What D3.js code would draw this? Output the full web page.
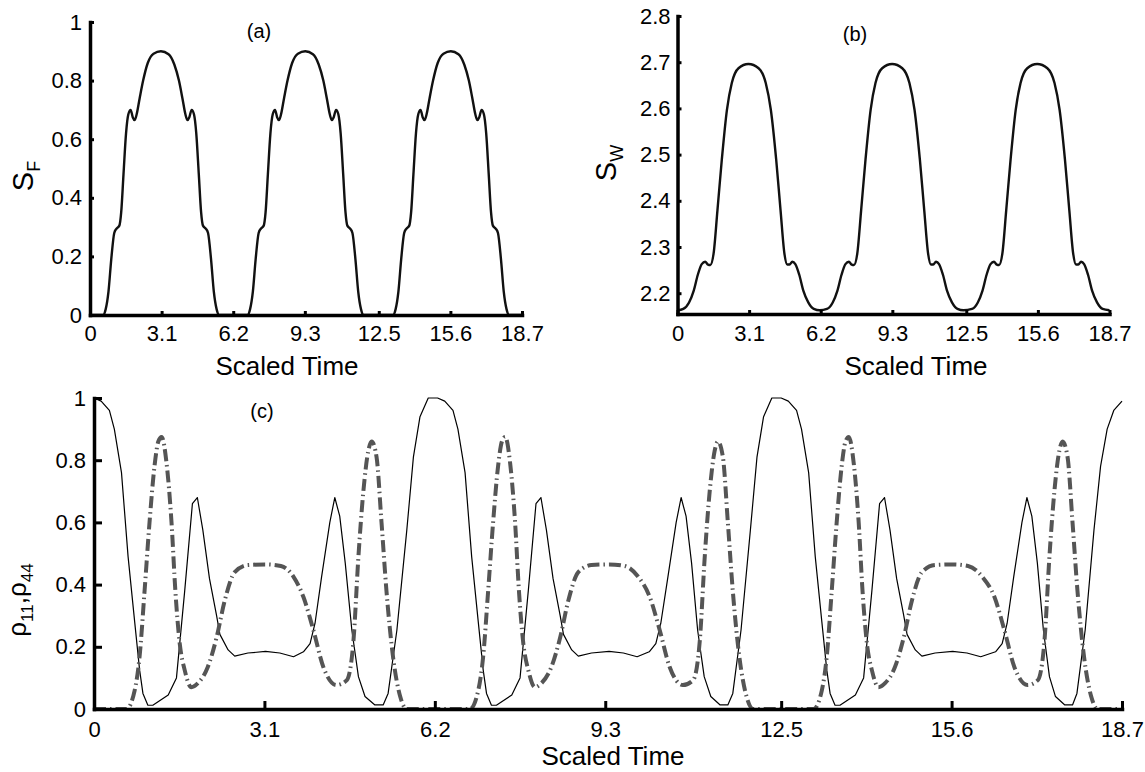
<!DOCTYPE html>
<html>
<head>
<meta charset="utf-8">
<script src="https://cdnjs.cloudflare.com/ajax/libs/d3/7.8.5/d3.min.js"></script>
<style>
    body { margin: 0; background: #fff; }
    svg { display: block; font-family: "Liberation Sans", Arial, Helvetica, sans-serif; }
</style>
</head>
<body>
<svg id="chart" width="1145" height="772"></svg>
<script>
// Tick values shared by the three panels
const timeTicks = [0, 3.1, 6.2, 9.3, 12.5, 15.6, 18.7];
const sfTicks = [0, 0.2, 0.4, 0.6, 0.8, 1];
const swTicks = [2.2, 2.3, 2.4, 2.5, 2.6, 2.7, 2.8];
const rhoTicks = [0, 0.2, 0.4, 0.6, 0.8, 1];

// (a) field entropy S_F, [time, value]
const entropyF = [
    [0, 0], [0.58, 0], [0.68, 0.02], [0.8, 0.08], [0.92, 0.19], [1.05, 0.28], [1.15, 0.295], [1.27, 0.305],
    [1.35, 0.35], [1.45, 0.48], [1.56, 0.62], [1.66, 0.685], [1.76, 0.70], [1.85, 0.675], [1.93, 0.665],
    [2.02, 0.685], [2.15, 0.74], [2.3, 0.80], [2.5, 0.86], [2.75, 0.892], [3.07, 0.90], [3.4, 0.89],
    [3.65, 0.855], [3.85, 0.80], [4.0, 0.74], [4.13, 0.685], [4.22, 0.665], [4.30, 0.675], [4.40, 0.70],
    [4.50, 0.685], [4.60, 0.62], [4.71, 0.48], [4.81, 0.35], [4.89, 0.305], [5.01, 0.295], [5.11, 0.28],
    [5.24, 0.19], [5.36, 0.08], [5.48, 0.02], [5.58, 0],
    [6.83, 0], [6.93, 0.02], [7.05, 0.08], [7.17, 0.19], [7.30, 0.28], [7.40, 0.295], [7.52, 0.305],
    [7.60, 0.35], [7.70, 0.48], [7.81, 0.62], [7.91, 0.685], [8.01, 0.70], [8.10, 0.675], [8.18, 0.665],
    [8.27, 0.685], [8.40, 0.74], [8.55, 0.80], [8.75, 0.86], [9.00, 0.892], [9.32, 0.90], [9.65, 0.89],
    [9.90, 0.855], [10.10, 0.80], [10.25, 0.74], [10.38, 0.685], [10.47, 0.665], [10.55, 0.675], [10.65, 0.70],
    [10.75, 0.685], [10.85, 0.62], [10.96, 0.48], [11.06, 0.35], [11.14, 0.305], [11.26, 0.295], [11.36, 0.28],
    [11.49, 0.19], [11.61, 0.08], [11.73, 0.02], [11.83, 0],
    [13.13, 0], [13.23, 0.02], [13.35, 0.08], [13.47, 0.19], [13.60, 0.28], [13.70, 0.295], [13.82, 0.305],
    [13.90, 0.35], [14.00, 0.48], [14.11, 0.62], [14.21, 0.685], [14.31, 0.70], [14.40, 0.675], [14.48, 0.665],
    [14.57, 0.685], [14.70, 0.74], [14.85, 0.80], [15.05, 0.86], [15.30, 0.892], [15.62, 0.90], [15.95, 0.89],
    [16.20, 0.855], [16.40, 0.80], [16.55, 0.74], [16.68, 0.685], [16.77, 0.665], [16.85, 0.675], [16.95, 0.70],
    [17.05, 0.685], [17.15, 0.62], [17.26, 0.48], [17.36, 0.35], [17.44, 0.305], [17.56, 0.295], [17.66, 0.28],
    [17.79, 0.19], [17.91, 0.08], [18.03, 0.02], [18.13, 0], [18.7, 0],
];

// (b) entropy S_W, [time, value]
const entropyW = [
    [0, 2.163], [0.25, 2.166], [0.5, 2.18], [0.7, 2.205], [0.88, 2.24], [1.05, 2.263], [1.2, 2.268],
    [1.32, 2.262], [1.42, 2.261], [1.56, 2.285], [1.73, 2.38], [1.92, 2.49], [2.14, 2.597], [2.35, 2.655],
    [2.64, 2.687], [3.07, 2.696], [3.51, 2.687], [3.82, 2.655], [4.04, 2.597], [4.27, 2.49], [4.46, 2.38],
    [4.63, 2.285], [4.75, 2.262], [4.85, 2.262], [4.97, 2.268], [5.1, 2.263], [5.27, 2.24], [5.45, 2.205],
    [5.66, 2.18], [5.9, 2.166], [6.16, 2.163],
    [6.47, 2.166], [6.72, 2.18], [6.92, 2.205], [7.10, 2.24], [7.27, 2.263], [7.42, 2.268], [7.54, 2.262],
    [7.64, 2.261], [7.78, 2.285], [7.95, 2.38], [8.14, 2.49], [8.36, 2.597], [8.57, 2.655], [8.86, 2.687],
    [9.29, 2.696], [9.73, 2.687], [10.04, 2.655], [10.26, 2.597], [10.49, 2.49], [10.68, 2.38], [10.85, 2.285],
    [10.97, 2.262], [11.07, 2.262], [11.19, 2.268], [11.32, 2.263], [11.49, 2.24], [11.67, 2.205], [11.88, 2.18],
    [12.12, 2.166], [12.38, 2.163],
    [12.75, 2.166], [13.00, 2.18], [13.20, 2.205], [13.38, 2.24], [13.55, 2.263], [13.70, 2.268], [13.82, 2.262],
    [13.92, 2.261], [14.06, 2.285], [14.23, 2.38], [14.42, 2.49], [14.64, 2.597], [14.85, 2.655], [15.14, 2.687],
    [15.57, 2.696], [16.01, 2.687], [16.32, 2.655], [16.54, 2.597], [16.77, 2.49], [16.96, 2.38], [17.13, 2.285],
    [17.25, 2.262], [17.35, 2.262], [17.47, 2.268], [17.60, 2.263], [17.77, 2.24], [17.95, 2.205], [18.16, 2.18],
    [18.40, 2.166], [18.7, 2.163],
];

// (c) populations rho_11 (solid) and rho_44 (dash-dot), [time, value]
const rho11 = [
    [0, 1.0], [0.13, 0.99], [0.28, 0.96], [0.37, 0.90], [0.5, 0.76], [0.62, 0.49], [0.74, 0.28], [0.83, 0.125],
    [0.89, 0.05], [0.98, 0.012], [1.07, 0.012], [1.35, 0.045], [1.5, 0.10], [1.65, 0.38], [1.79, 0.66],
    [1.88, 0.68], [1.98, 0.575], [2.1, 0.42], [2.23, 0.30], [2.29, 0.24], [2.44, 0.19], [2.56, 0.17],
    [2.8, 0.18], [3.12, 0.185], [3.38, 0.18], [3.63, 0.168], [3.81, 0.184], [3.93, 0.21], [4.02, 0.275],
    [4.14, 0.425], [4.29, 0.6], [4.38, 0.68], [4.47, 0.62], [4.57, 0.47], [4.69, 0.254], [4.81, 0.104],
    [4.93, 0.04], [5.11, 0.013], [5.26, 0.013], [5.35, 0.05], [5.51, 0.254], [5.69, 0.575], [5.81, 0.81],
    [5.93, 0.94], [6.08, 1.0], [6.25, 1.0],
    [6.38, 0.99], [6.53, 0.96], [6.62, 0.90], [6.75, 0.76], [6.87, 0.49], [6.99, 0.28], [7.08, 0.125],
    [7.14, 0.05], [7.23, 0.012], [7.32, 0.012], [7.60, 0.045], [7.75, 0.10], [7.90, 0.38], [8.04, 0.66],
    [8.13, 0.68], [8.23, 0.575], [8.35, 0.42], [8.48, 0.30], [8.54, 0.24], [8.69, 0.19], [8.81, 0.17],
    [9.05, 0.18], [9.37, 0.185], [9.63, 0.18], [9.88, 0.168], [10.10, 0.184], [10.22, 0.21], [10.31, 0.275],
    [10.44, 0.425], [10.59, 0.6], [10.68, 0.68], [10.77, 0.62], [10.87, 0.47], [10.98, 0.254], [11.10, 0.104],
    [11.22, 0.04], [11.39, 0.013], [11.53, 0.013], [11.62, 0.05], [11.77, 0.254], [11.94, 0.575], [12.06, 0.81],
    [12.18, 0.94], [12.33, 1.0], [12.5, 1.0],
    [12.63, 0.99], [12.78, 0.96], [12.87, 0.90], [13.00, 0.76], [13.12, 0.49], [13.24, 0.28], [13.33, 0.125],
    [13.39, 0.05], [13.48, 0.012], [13.57, 0.012], [13.85, 0.045], [14.00, 0.10], [14.15, 0.38], [14.29, 0.66],
    [14.38, 0.68], [14.48, 0.575], [14.60, 0.42], [14.73, 0.30], [14.79, 0.24], [14.94, 0.19], [15.06, 0.17],
    [15.30, 0.18], [15.62, 0.185], [15.88, 0.18], [16.13, 0.168], [16.40, 0.184], [16.52, 0.21], [16.61, 0.275],
    [16.73, 0.425], [16.88, 0.6], [16.97, 0.68], [17.06, 0.62], [17.16, 0.47], [17.27, 0.254], [17.38, 0.104],
    [17.49, 0.04], [17.66, 0.013], [17.80, 0.013], [17.88, 0.05], [18.03, 0.254], [18.19, 0.575], [18.31, 0.78],
    [18.43, 0.90], [18.55, 0.96], [18.7, 0.99],
];

const rho44 = [
    [0, 0], [0.59, 0], [0.74, 0.06], [0.83, 0.17], [0.92, 0.38], [1.01, 0.6], [1.1, 0.78], [1.17, 0.86],
    [1.23, 0.875], [1.32, 0.79], [1.41, 0.6], [1.48, 0.38], [1.56, 0.21], [1.65, 0.125], [1.77, 0.07],
    [1.89, 0.083], [2.07, 0.135], [2.23, 0.23], [2.38, 0.35], [2.56, 0.44], [2.8, 0.463], [3.12, 0.465],
    [3.4, 0.46], [3.63, 0.425], [3.81, 0.36], [3.99, 0.254], [4.17, 0.136], [4.41, 0.077], [4.6, 0.093],
    [4.72, 0.22], [4.81, 0.49], [4.9, 0.70], [4.99, 0.83], [5.05, 0.86], [5.14, 0.81], [5.23, 0.6],
    [5.32, 0.38], [5.44, 0.167], [5.57, 0.04], [5.69, 0],
    [6.84, 0], [6.99, 0.06], [7.08, 0.17], [7.17, 0.38], [7.26, 0.6], [7.35, 0.78], [7.42, 0.86],
    [7.48, 0.875], [7.57, 0.79], [7.66, 0.6], [7.73, 0.38], [7.81, 0.21], [7.90, 0.125], [8.02, 0.07],
    [8.14, 0.083], [8.32, 0.135], [8.48, 0.23], [8.63, 0.35], [8.81, 0.44], [9.05, 0.463], [9.37, 0.465],
    [9.65, 0.46], [9.90, 0.425], [10.11, 0.36], [10.29, 0.254], [10.47, 0.136], [10.71, 0.077], [10.90, 0.093],
    [11.02, 0.22], [11.11, 0.49], [11.20, 0.70], [11.29, 0.83], [11.35, 0.86], [11.44, 0.81], [11.53, 0.6],
    [11.62, 0.38], [11.74, 0.167], [11.87, 0.04], [11.99, 0],
    [13.09, 0], [13.24, 0.06], [13.33, 0.17], [13.42, 0.38], [13.51, 0.6], [13.60, 0.78], [13.67, 0.86],
    [13.73, 0.875], [13.82, 0.79], [13.91, 0.6], [13.98, 0.38], [14.06, 0.21], [14.15, 0.125], [14.27, 0.07],
    [14.39, 0.083], [14.57, 0.135], [14.73, 0.23], [14.88, 0.35], [15.06, 0.44], [15.30, 0.463], [15.62, 0.465],
    [15.90, 0.46], [16.16, 0.425], [16.38, 0.36], [16.56, 0.254], [16.74, 0.136], [16.98, 0.077], [17.17, 0.093],
    [17.29, 0.22], [17.38, 0.49], [17.47, 0.70], [17.56, 0.83], [17.62, 0.86], [17.71, 0.81], [17.80, 0.6],
    [17.89, 0.38], [18.01, 0.167], [18.14, 0.04], [18.26, 0], [18.7, 0],
];

const svg = d3.select('#chart');

function drawPanel(p) {
    const x = d3.scaleLinear().domain([0, 18.7]).range([p.left, p.right]);
    const y = d3.scaleLinear().domain(p.yDomain).range([p.bottom, p.top]);
    const g = svg.append('g');

    // curves first, axes drawn on top like the original
    p.series.forEach((s) => {
        const line = d3.line()
            .curve(s.curve)
            .x(d => x(d[0]))
            .y(d => y(d[1]));
        g.append('path')
            .datum(s.data)
            .attr('fill', 'none')
            .attr('stroke', s.color)
            .attr('stroke-width', s.width)
            .attr('stroke-dasharray', s.dash || null)
            .attr('stroke-linejoin', 'round')
            .attr('d', line);
    });

    const xAxis = g.append('g')
        .attr('transform', `translate(0,${p.bottom})`)
        .call(d3.axisBottom(x).tickValues(timeTicks).tickFormat(d => String(d))
            .tickSize(-p.tick).tickSizeOuter(0).tickPadding(p.xPad));
    const yAxis = g.append('g')
        .attr('transform', `translate(${p.left},0)`)
        .call(d3.axisLeft(y).tickValues(p.yTicks).tickFormat(d => String(d))
            .tickSize(-p.tick).tickSizeOuter(0).tickPadding(p.yPad));

    [xAxis, yAxis].forEach((ax) => {
        ax.select('.domain').attr('stroke', '#000').attr('stroke-width', 3.5).attr('stroke-linecap', 'square');
        ax.selectAll('.tick line').attr('stroke', '#000').attr('stroke-width', 3);
        ax.selectAll('.tick text').attr('fill', '#000').style('font-size', '22px')
            .style('font-family', '"Liberation Sans", Arial, sans-serif');
    });

    // panel tag
    g.append('text')
        .attr('x', p.tag[0])
        .attr('y', p.tag[1])
        .attr('text-anchor', 'middle')
        .style('font-size', '20px')
        .text(p.tagText);

    // x label
    g.append('text')
        .attr('x', p.xLabel[0])
        .attr('y', p.xLabel[1])
        .attr('text-anchor', 'middle')
        .style('font-size', '26px')
        .text('Scaled Time');

    // y label, rotated, with subscripts
    const yl = g.append('text')
        .attr('transform', `translate(${p.yLabel[0]},${p.yLabel[1]}) rotate(-90)`)
        .attr('text-anchor', 'middle')
        .style('font-size', `${p.yLabelSize}px`);
    p.yLabelParts.forEach((part) => {
        yl.append('tspan')
            .attr('dy', part.dy)
            .style('font-size', part.sub ? `${p.subSize}px` : null)
            .text(part.t);
    });
}

drawPanel({
    left: 90, right: 522, top: 22, bottom: 315,
    yDomain: [0, 1], yTicks: sfTicks, tick: 4, xPad: 10, yPad: 8,
    series: [{ data: entropyF, color: '#111', width: 2.4, curve: d3.curveMonotoneX }],
    tag: [259, 38], tagText: '(a)',
    xLabel: [287, 375],
    yLabel: [33, 176], yLabelSize: 29, subSize: 18,
    yLabelParts: [{ t: 'S', dy: 0 }, { t: 'F', dy: 7, sub: true }],
});

drawPanel({
    left: 677.5, right: 1109.5, top: 16, bottom: 314,
    yDomain: [2.155, 2.8], yTicks: swTicks, tick: 4, xPad: 11, yPad: 7,
    series: [{ data: entropyW, color: '#111', width: 2.4, curve: d3.curveMonotoneX }],
    tag: [855, 41], tagText: '(b)',
    xLabel: [916, 375],
    yLabel: [616, 163], yLabelSize: 29, subSize: 18,
    yLabelParts: [{ t: 'S', dy: 0 }, { t: 'W', dy: 7, sub: true }],
});

drawPanel({
    left: 94, right: 1122, top: 398, bottom: 709,
    yDomain: [0, 1], yTicks: rhoTicks, tick: 8, xPad: 12, yPad: 8,
    series: [
        { data: rho11, color: '#000', width: 1.2, curve: d3.curveLinear },
        { data: rho44, color: '#555', width: 4, curve: d3.curveMonotoneX, dash: '12,4,1.5,4' },
    ],
    tag: [262, 418], tagText: '(c)',
    xLabel: [613, 765],
    yLabel: [26, 600], yLabelSize: 26, subSize: 17,
    yLabelParts: [
        { t: 'ρ', dy: 0 }, { t: '11', dy: 7, sub: true }, { t: ',ρ', dy: -7 }, { t: '44', dy: 7, sub: true },
    ],
});
</script>
</body>
</html>
